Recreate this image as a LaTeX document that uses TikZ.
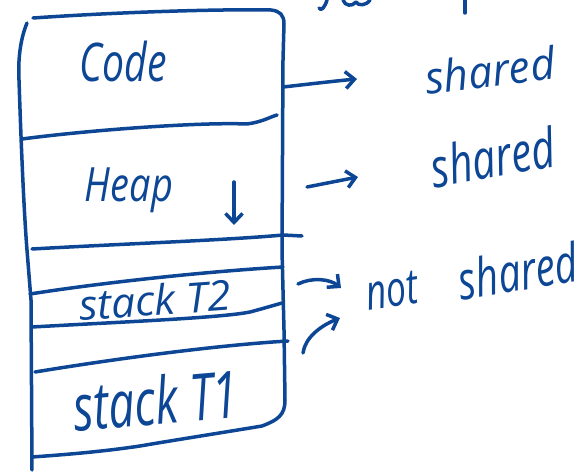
\documentclass[tikz,border=0pt]{standalone}
\usepackage{fontspec}
\setmainfont{Open Sans}
\usetikzlibrary{arrows.meta}
\definecolor{ink}{RGB}{12,70,148}
% hand-lettered label: text stretched to a given width and total height
\newcommand{\handtext}[3]{\resizebox*{#1}{#2}{\itshape #3}}
\begin{document}
\begin{tikzpicture}[x=1pt,y=-1pt,line cap=round,line join=round,
  pen/.style={draw=ink,line width=3.5pt},
  barb/.style={-{Straight Barb[length=9pt,width=17pt]}},
  lettering/.style={text=ink,inner sep=0pt}]
\useasboundingbox (0,0) rectangle (587,476);

% ---- memory layout box ----
\coordinate (tl) at (33,18);
\coordinate (tr) at (284,24);
\coordinate (br) at (285,400);
\coordinate (bl) at (32,457);
% top edge and right edge, rounded bottom-right corner, wavy bottom
\draw[pen] (tl) .. controls (120,12) and (220,9) .. (271,10)
  .. controls (280,11) and (284,15) .. (tr)
  -- (283,60) -- (282,250) -- (284,330) -- (br)
  .. controls (285,415) and (278,420) .. (262,426)
  .. controls (220,433) and (175,440) .. (140,446)
  .. controls (100,452) and (60,455) .. (bl);
% left edge
\draw[pen] (27,23) .. controls (20,40) and (18,60) .. (19,80)
  .. controls (20,110) and (23,200) .. (27,250) -- (31,300) -- (32,470);

% ---- dividers ----
\draw[pen] (22,139) .. controls (90,130) and (200,122) .. (247,124)
  .. controls (262,122) and (270,117) .. (277,115);
\draw[pen] (32,249) .. controls (120,244) and (230,240) .. (283,235) -- (302,236);
\draw[pen] (30,294) .. controls (100,283) and (200,272) .. (283,267);
\draw[pen] (32,327) .. controls (120,322) and (220,318) .. (250,312)
  .. controls (265,308) and (275,305) .. (282,303);
\draw[pen] (35,372) .. controls (120,358) and (220,345) .. (288,341);

% ---- segment labels ----
\node[lettering] (code) at (123,62) {\handtext{87pt}{41pt}{Code}};
\node[lettering] (heap) at (129,190) {\handtext{88pt}{45pt}{Heap}};
\node[lettering,rotate=4] (stackTwo) at (155,300) {\handtext{152pt}{32pt}{stack T2}};
\node[lettering,rotate=5] (stackOne) at (156,400) {\handtext{165pt}{50pt}{stack T1}};

% heap grows downward
\coordinate (heapTop) at (234,182);
\coordinate (heapEnd) at (234,225);
\draw[pen,barb] (heapTop) -- (heapEnd);

% ---- sharing annotations ----
\node[lettering,rotate=7] (sharedA) at (490,70) {\handtext{130pt}{34pt}{shared}};
\node[lettering,rotate=10] (sharedB) at (493,157) {\handtext{125pt}{42pt}{shared}};
\node[lettering,rotate=8] (notWord) at (392,291) {\handtext{52pt}{33pt}{not}};
\node[lettering,rotate=9] (sharedC) at (518,271) {\handtext{120pt}{41pt}{shared}};

\coordinate (codeOut) at (283,87);
\coordinate (codeTip) at (357,79);
\draw[pen,barb] (codeOut) .. controls (310,84) and (335,81) .. (codeTip);
\coordinate (heapOut) at (307,187);
\coordinate (heapTip) at (358,177);
\draw[pen,barb] (heapOut) -- (heapTip);

\coordinate (twoOut) at (298,284);
\coordinate (twoTip) at (341,288);
\draw[pen,barb] (twoOut) .. controls (312,277) and (330,279) .. (twoTip);
\coordinate (oneOut) at (303,353);
\coordinate (oneTip) at (340,318);
\draw[pen,barb] (oneOut) .. controls (305,338) and (320,326) .. (oneTip);

% ---- writing cut off at the top edge ----
\draw[pen] (327,0) .. controls (325,7) and (321,12) .. (319,8);
\draw[pen] (343,0) .. controls (345,6) and (352,7) .. (356,2)
  .. controls (358,6) and (366,6) .. (370,0);
\draw[pen] (465,0) -- (465,13);
\end{tikzpicture}
\end{document}
